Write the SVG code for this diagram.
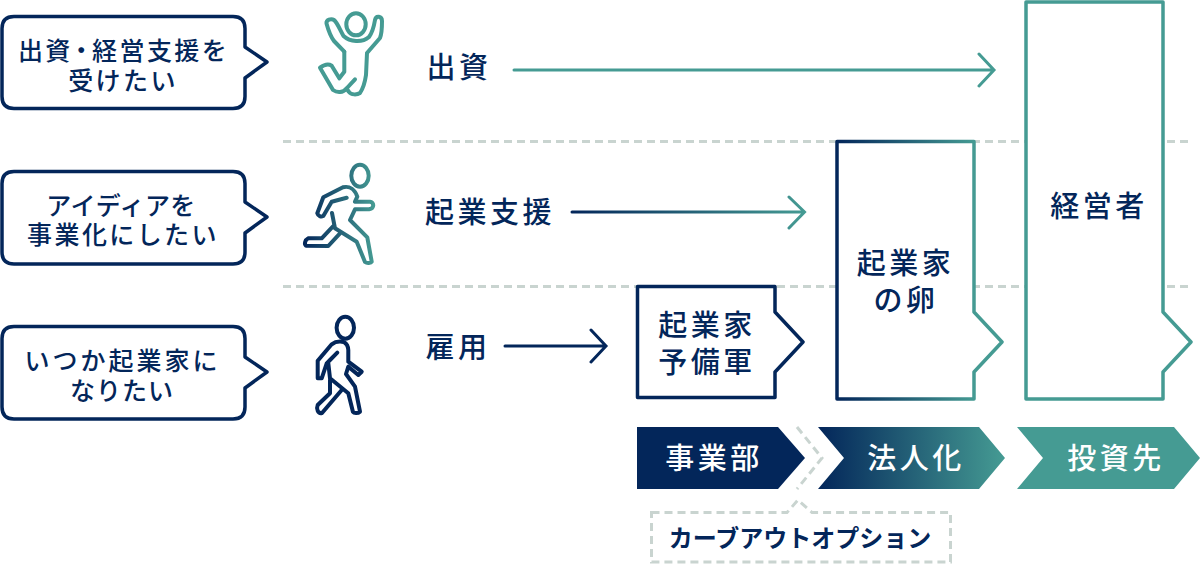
<svg xmlns="http://www.w3.org/2000/svg" width="1200" height="564" viewBox="0 0 1200 564">
<style>
text{font-family:"Noto Sans CJK JP","Noto Sans",sans-serif;font-weight:500;text-anchor:middle;fill:#03265a}
.b{font-size:25px;letter-spacing:2.400px}
.l{font-size:29px;letter-spacing:3.500px}
.c{font-size:29px;letter-spacing:3.500px;fill:#fff}
.o{font-size:24px;font-weight:700;letter-spacing:0}
.n{fill:#fff;stroke:#03265a;stroke-width:3.500;stroke-linejoin:round}
.i{fill:none;stroke-width:4;stroke-linecap:round;stroke-linejoin:round}
.d{fill:none;stroke:#c9d4d0;stroke-width:3;stroke-dasharray:8 5}
.a{fill:none;stroke-width:3;stroke-linecap:round;stroke-linejoin:miter}
</style>
<defs>
<linearGradient id="g1" gradientUnits="userSpaceOnUse" x1="837" y1="0" x2="975" y2="0"><stop offset="0" stop-color="#03265a"/><stop offset="1" stop-color="#459b93"/></linearGradient>
<linearGradient id="g2" gradientUnits="userSpaceOnUse" x1="818" y1="0" x2="1005" y2="0"><stop offset="0" stop-color="#03265a"/><stop offset="1" stop-color="#459b93"/></linearGradient>
<linearGradient id="g3" gradientUnits="userSpaceOnUse" x1="304" y1="0" x2="374" y2="0"><stop offset="0" stop-color="#03265a"/><stop offset="1" stop-color="#459b93"/></linearGradient>
<linearGradient id="g4" gradientUnits="userSpaceOnUse" x1="571" y1="0" x2="805" y2="0"><stop offset="0" stop-color="#03265a"/><stop offset="1" stop-color="#459b93"/></linearGradient>
</defs>
<g id="separators">
<path class="d" d="M283 141.500H1188"/>
<path class="d" d="M283 286.500H1188"/>
</g>
<g id="connectors">
<path class="a" stroke="#459b93" d="M514 70H993.500M979 54L994 70L979 86"/>
<path class="a" stroke="url(#g4)" d="M572 212H804M789 197L804.500 212L789 228"/>
<path class="a" stroke="#03265a" d="M505 346H605M591 330L606 346L591 362"/>
</g>
<g id="bubble1"><path class="n" d="M14 16.500H233Q245 16.500 245 28.500V47L267 62L245 78V96.500Q245 108.500 233 108.500H14Q2 108.500 2 96.500V28.500Q2 16.500 14 16.500Z"/>
<text class="b" x="123.500" y="60">出資<tspan dx="-4">・</tspan><tspan dx="-4">経営支援を</tspan></text><text class="b" x="123" y="89.500">受けたい</text></g>
<g id="bubble2"><path class="n" d="M14 171.500H233Q245 171.500 245 183.500V202L267 217L245 233V252Q245 264 233 264H14Q2 264 2 252V183.500Q2 171.500 14 171.500Z"/>
<text class="b" style="letter-spacing:.4px" x="121" y="215">アイディアを</text><text class="b" x="123" y="244">事業化にしたい</text></g>
<g id="bubble3"><path class="n" d="M14 326.500H233Q245 326.500 245 338.500V357L267 372L245 388V407Q245 419 233 419H14Q2 419 2 407V338.500Q2 326.500 14 326.500Z"/>
<text class="b" style="letter-spacing:3px" x="122.500" y="370">いつか起業家に</text><text class="b" style="letter-spacing:1px" x="122" y="399.500">なりたい</text></g>
<g id="icon-jump" stroke="#459b93">
<ellipse class="i" cx="356" cy="24.300" rx="9.700" ry="11"/>
<path class="i" d="M344.300 51.700L334 41C331 37 328 29 326.500 23.500C326 20 331 18 334 20C337 22 340 30 343.500 36C350 42 362 43 369 37C372 33 374 26 375 20C376 15 382 16 382 21C382 26 382 33 380 38L367 53L366 75C365 82 362 90 360 93C357 95 351 95 349 92L346.500 88.500L355 79.300"/>
<path class="i" d="M344.300 51.700V71.700L339.300 78.300L331.700 65.700C329 64 325 64 320 67.700L333 90C337 93 343 93 346.500 88.500"/>
</g>
<g id="icon-run" stroke="url(#g3)">
<ellipse class="i" cx="360" cy="175.700" rx="8.700" ry="11"/>
<path class="i" d="M346.700 197.700L331.700 201.700L323.300 216C321 217 318 216 317.300 213.300L323.300 197.300L343 187.300C350 185.500 355 190 357.300 196.700L355 201.700H370C374 202 375 208 369 209.300H355L350 220L367.300 237.300L371.700 261.700C371 263 367 263.500 365 262L356.700 241.700L335 228.300L332 213"/>
<path class="i" d="M333 226.300L321.700 238.300H308.300C305 240 304 244 306 245.700L328.300 246L340 233.300"/>
</g>
<g id="icon-walk" stroke="#03265a">
<ellipse class="i" cx="345.300" cy="327.700" rx="8.700" ry="11"/>
<path class="i" d="M337.300 352.700L330 360L326.700 363.300L321.700 378.300H317.700V360.700L331.700 344.300C336 341 344 340 347 345C348 347 348.300 348 348.300 350V361.700L361.700 371.700L358.300 375L348.300 366.700L346 374L355 386.700L360 411.700C358 413.500 354 413.500 353 412L348.300 393.300L330 378.300L328.300 363.300"/>
<path class="i" d="M330 380V393.300L317.700 405C316 409 318 414 322 413L341.700 390"/>
</g>
<g id="label-invest"><text class="l" x="459" y="78">出資</text></g>
<g id="label-support"><text class="l" x="490" y="223">起業支援</text></g>
<g id="label-hire"><text class="l" x="458" y="358">雇用</text></g>
<g id="reserve"><path class="n" d="M637.500 286.500H775V312L803 342L775 372V397.500H637.500Z"/>
<text class="l" x="707" y="336">起業家</text><text class="l" x="707" y="373">予備軍</text></g>
<g id="egg"><path class="n" style="stroke:url(#g1)" d="M837 141.500H974V312L1002 342L974 372V399H837Z"/>
<text class="l" x="905.500" y="274">起業家</text><text class="l" x="906" y="311">の卵</text></g>
<g id="manager"><path class="n" style="stroke:#459b93" d="M1026 2H1163V312L1191 342L1163 372V399H1026Z"/>
<text class="l" x="1099" y="217">経営者</text></g>
<g id="carveout-line">
<path class="d" d="M797 427L822 458L797 489"/>
<path class="d" d="M651.500 512.500H787L798 500L812 512.500H950.500V562H651.500Z"/>
</g>
<g id="stage1"><path fill="#03265a" d="M637 427H778L805 458L778 489H637Z"/><text class="c" x="714" y="469">事業部</text></g>
<g id="stage2"><path fill="url(#g2)" d="M818 427H979L1005 458L979 489H818L844 458Z"/><text class="c" x="916" y="469">法人化</text></g>
<g id="stage3"><path fill="#459b93" d="M1017 427H1174L1200 458L1174 489H1017L1043 458Z"/><text class="c" x="1116" y="469">投資先</text></g>
<g id="carveout"><text class="o" x="800" y="547">カーブアウトオプション</text></g>
</svg>
